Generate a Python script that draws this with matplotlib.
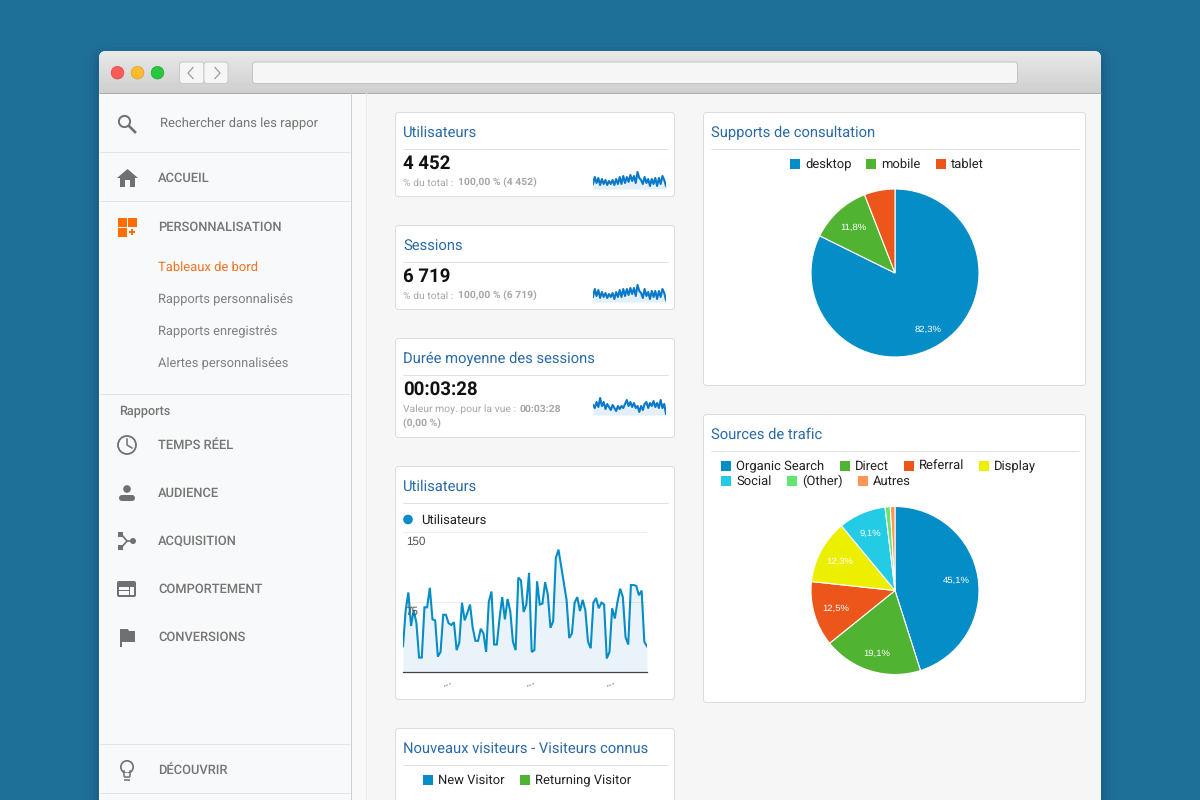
import matplotlib
matplotlib.use('Agg')
import numpy as np
import matplotlib.pyplot as plt
from matplotlib.patches import Circle, FancyBboxPatch, Polygon, Rectangle
from matplotlib.transforms import ScaledTranslation

plt.rcParams['font.family'] = ['Roboto', 'DejaVu Sans']
plt.rcParams['text.hinting'] = 'no_hinting'

# data
users_daily = [27, 66, 85, 49, 66, 52, 15, 15, 69, 69, 90, 56, 55, 16, 21, 61, 61, 52, 50, 53, 23, 31, 74,
               55, 63, 72, 47, 33, 33, 46, 41, 21, 75, 86, 29, 29, 57, 80, 56, 78, 65, 32, 23, 101, 98, 64,
               72, 106, 21, 23, 97, 72, 73, 96, 83, 47, 54, 122, 131, 113, 95, 77, 36, 41, 74, 80, 65, 77,
               66, 32, 25, 74, 79, 68, 74, 72, 14, 21, 68, 57, 75, 89, 80, 37, 29, 93, 93, 92, 82, 87, 32, 27]
users_ticks = [0, 75, 150]
users_tick_labels = ['', '75', '150']
date_ticks = [16, 47, 77]
date_labels = ['...', '...', '...']

spark_users = [5, 12, 6, 11, 4, 10, 5, 9, 4, 8, 5, 9, 4, 10, 5, 12, 5, 13, 6, 12, 7, 14, 8, 13, 6, 17, 11, 9,
               5, 12, 6, 10, 3, 10, 5, 11, 3, 11, 5, 13, 9, 3]
spark_sessions = [5, 13, 6, 12, 4, 10, 5, 9, 4, 8, 5, 9, 3, 10, 5, 12, 5, 13, 6, 13, 7, 14, 8, 14, 6, 17, 11,
                  9, 4, 13, 6, 10, 3, 11, 5, 11, 3, 11, 5, 13, 9, 2]
spark_duration = [10, 7, 13, 8, 17, 9, 13, 6, 11, 8, 5, 10, 7, 4, 9, 6, 9, 7, 11, 15, 9, 13, 8, 12, 7, 9, 3,
                  9, 5, 11, 13, 7, 12, 9, 14, 8, 12, 7, 15, 7, 11, 1]

device_names = ['desktop', 'mobile', 'tablet']
device_share = [82.3, 11.8, 5.9]
source_names = ['Organic Search', 'Direct', 'Referral', 'Display', 'Social', '(Other)', 'Autres']
source_share = [45.1, 19.1, 12.5, 12.3, 9.1, 1.0, 0.9]
visitor_names = ['New Visitor', 'Returning Visitor']

palette = ['#058dc7', '#50b432', '#ed561b', '#edef00', '#24cbe5', '#64e572', '#ff9655']
TITLE_BLUE = '#2a6aa8'
GREY = '#757575'
LINE = '#dfdfdf'
PX = 0.72

fig = plt.figure(figsize=(12, 8), dpi=100, facecolor='#1f7099')
bg = fig.add_axes([0, 0, 1, 1])
bg.set_xlim(0, 1200)
bg.set_ylim(800, 0)
bg.axis('off')


def box(x0, y0, x1, y1, fc, ec='none', r=3, lw=PX, z=2, alpha=None):
    p = FancyBboxPatch((x0, y0), x1 - x0, y1 - y0, boxstyle=f'round,pad=0,rounding_size={r}',
                       fc=fc, ec=ec, lw=lw, zorder=z, alpha=alpha)
    bg.add_patch(p)
    return p


def rect(x0, y0, x1, y1, color, z=3):
    bg.add_patch(Rectangle((x0, y0), x1 - x0, y1 - y0, fc=color, ec='none', zorder=z))


def hline(y, x0, x1, color=LINE, lw=PX, z=4):
    bg.plot([x0, x1], [y, y], color=color, lw=lw, zorder=z, solid_capstyle='butt')


def txt(x, y, s, px, color='#222222', weight='normal', ha='left', z=6):
    # baseline anchor so descenders and brackets do not move the row
    bg.text(x, y + 0.355 * px - 0.7, s, fontsize=px * PX, color=color, fontweight=weight, ha=ha, va='baseline', zorder=z)


def sub_axes(x0, y0, x1, y1):
    ax = fig.add_axes([x0 / 1200, 1 - y1 / 800, (x1 - x0) / 1200, (y1 - y0) / 800])
    ax.patch.set_alpha(0)
    return ax


# window and its soft shadow
for grow, a in [(14, 0.015), (10, 0.02), (6, 0.03), (3, 0.04)]:
    box(99 - grow, 51 - grow + 6, 1101 + grow, 830, '#000000', r=8 + grow, z=1, alpha=a)
win = box(99, 51, 1101, 830, '#f6f6f6', r=7, z=2)
bar = bg.imshow(np.linspace(0.91, 0.81, 42).reshape(-1, 1), cmap='gray', vmin=0, vmax=1,
                extent=(99, 1101, 93, 51), aspect='auto', zorder=2.5)
bar.set_clip_path(win)
bg.set_xlim(0, 1200)
bg.set_ylim(800, 0)
hline(92.5, 99, 1101, '#ababab')

# title bar controls
for cx, fc, ec in [(117.5, '#fc5b57', '#df4744'), (137.5, '#fdbc2e', '#de9f23'), (157.5, '#27c840', '#1aab2b')]:
    bg.add_patch(Circle((cx, 72.7), 6.3, fc=fc, ec=ec, lw=0.5, zorder=5))
box(179.5, 62, 204, 83.5, '#f6f6f6', '#c9c9c9', r=3, z=4)
box(204, 62, 228, 83.5, '#f6f6f6', '#c9c9c9', r=3, z=4)
box(252.5, 62, 1017.5, 83.5, '#f6f6f6', '#c4c4c4', r=3, z=4)
bg.plot([193, 188, 193], [67.5, 73, 78.5], color='#9a9a9a', lw=0.9, zorder=5)
bg.plot([215, 220, 215], [67.5, 73, 78.5], color='#9a9a9a', lw=0.9, zorder=5)

# sidebar
rect(99, 93, 351, 800, '#f8f9fa')
rect(351, 93, 365, 800, '#f9f9f9')
bg.plot([350.5, 350.5], [93, 800], color='#cfcfcf', lw=PX, zorder=4)
bg.plot([365.5, 365.5], [93, 800], color='#ececec', lw=PX, zorder=4)
for y in [152, 201, 394, 744, 793]:
    hline(y, 99, 350, '#e4e4e4')

txt(160, 123, 'Rechercher dans les rappor', 13, GREY)
nav_items = ['ACCUEIL', 'PERSONNALISATION', 'TEMPS RÉEL', 'AUDIENCE', 'ACQUISITION', 'COMPORTEMENT',
             'CONVERSIONS', 'DÉCOUVRIR']
nav_rows = [178, 227, 445, 493, 541, 589, 637, 770]
for name, y in zip(nav_items, nav_rows):
    txt(158, y, name, 12.9, GREY, 'medium')
txt(158, 267, 'Tableaux de bord', 13, '#f47321')
for name, y in zip(['Rapports personnalisés', 'Rapports enregistrés', 'Alertes personnalisées'], [299, 331, 363]):
    txt(158, y, name, 12.85, '#808080')
txt(119, 411, 'Rapports', 12.6, GREY, 'medium')

# sidebar icons
ICON = '#707070'
bg.add_patch(Circle((124.5, 121.5), 5.6, fc='none', ec=ICON, lw=1.4, zorder=5))
bg.plot([129, 135], [126, 132], color=ICON, lw=1.9, zorder=5)
bg.add_patch(Polygon([(117, 178), (127.5, 169), (138, 178), (135, 178), (135, 187), (130, 187), (130, 180),
                      (125, 180), (125, 187), (120, 187), (120, 178)], fc=ICON, ec='none', zorder=5))
for x0, y0 in [(118, 218), (128, 218), (118, 228)]:
    rect(x0, y0, x0 + 9, y0 + 8.5, '#ff6d00', 5)
rect(129, 231, 135, 232.5, '#ff6d00', 5)
rect(131.3, 228.8, 132.8, 234.8, '#ff6d00', 5)
bg.add_patch(Circle((127, 445), 9, fc='none', ec=ICON, lw=1.3, zorder=5))
bg.plot([127, 127, 132], [439, 445, 448], color=ICON, lw=1.1, zorder=5)
bg.add_patch(Circle((127, 489), 3.8, fc=ICON, ec='none', zorder=5))
box(119, 495, 135, 501, ICON, r=3, z=5)
bg.plot([121, 127, 134], [534, 541, 541], color=ICON, lw=1.2, zorder=5)
bg.plot([121, 127], [548, 541], color=ICON, lw=1.2, zorder=5)
rect(118, 532, 123, 537, ICON, 5)
rect(118, 545, 123, 550, ICON, 5)
bg.add_patch(Circle((133, 541), 3, fc=ICON, ec='none', zorder=5))
box(117, 581, 136, 597, ICON, r=2, z=5)
rect(119, 587, 129, 595, '#f8f9fa', 6)
rect(130, 587, 134, 595, '#f8f9fa', 6)
rect(119, 590, 129, 591, ICON, 7)
bg.add_patch(Polygon([(120, 629), (128, 629), (129, 631), (135, 631), (135, 642), (122, 642), (122, 647), (120, 647)],
                     fc=ICON, ec='none', zorder=5))
bg.add_patch(Circle((127, 767), 6.2, fc='none', ec=ICON, lw=1.2, zorder=5))
rect(123.5, 773, 130.5, 776, '#f8f9fa', 5.5)
bg.plot([124, 124], [771, 776], color=ICON, lw=1.1, zorder=6)
bg.plot([130, 130], [771, 776], color=ICON, lw=1.1, zorder=6)
hline(776.5, 124, 130, ICON, 1.1, 6)
hline(779.5, 124, 130, ICON, 1.1, 6)

# cards
cards = [(395, 112, 675, 197, 'Utilisateurs', 149), (395, 225, 675, 310, 'Sessions', 262),
         (395, 338, 675, 438, 'Durée moyenne des sessions', 375), (395, 466, 675, 700, 'Utilisateurs', 503),
         (395, 728, 675, 830, 'Nouveaux visiteurs - Visiteurs connus', 765),
         (703, 112, 1086, 386, 'Supports de consultation', 149), (703, 414, 1086, 703, 'Sources de trafic', 451)]
for x0, y0, x1, y1, title, rule in cards:
    box(x0 + 0.5, y0 + 0.5, x1 - 0.5, y1 - 0.5, 'white', '#dddddd', r=3)
    txt(x0 + 8, rule - 17, title, 14.8, TITLE_BLUE)
    hline(rule, x0 + 8, x1 - 7)

# scorecards
txt(403, 163, '4 452', 18.7, '#111111', 'bold')
txt(403, 276, '6 719', 18.7, '#111111', 'bold')
txt(403, 389, '00:03:28', 18.7, '#111111', 'bold')
SUB = '#a6a6a6'
txt(403, 183, '% du total :', 10.4, SUB)
txt(458, 183, '100,00 % (4 452)', 10.4, SUB, 'bold')
txt(403, 296, '% du total :', 10.4, SUB)
txt(458, 296, '100,00 % (6 719)', 10.4, SUB, 'bold')
txt(403, 409, 'Valeur moy. pour la vue :', 10.4, SUB)
txt(520, 409, '00:03:28', 10.4, SUB, 'bold')
txt(403, 424, '(0,00 %)', 10.4, SUB, 'bold')

for series, (y0, y1) in [(spark_users, (171, 189)), (spark_sessions, (284, 302)), (spark_duration, (397, 415))]:
    ax = sub_axes(593, y0, 666, y1)
    xs = np.arange(len(series))
    ax.fill_between(xs, series, color='#e3f0fa', lw=0)
    ax.plot(xs, series, color='#0a78c8', lw=1.5)
    ax.set_xlim(0, len(series) - 1)
    ax.set_ylim(0, 18)
    ax.axis('off')

# line chart
ax = sub_axes(403, 532, 647, 671.5)
days = np.arange(len(users_daily))
ax.fill_between(days, users_daily, color='#eaf3fa', lw=0)
ax.plot(days, users_daily, color='#058dc7', lw=1.5, solid_joinstyle='miter')
ax.set_xlim(0, len(users_daily) - 1)
ax.set_ylim(0, 150)
ax.set_yticks(users_ticks)
ax.set_yticklabels(users_tick_labels, fontsize=8.4, color='#555555', fontfamily='Liberation Sans')
ax.tick_params(axis='y', length=0, pad=-2)
shift = ScaledTranslation(0, -3 / 72, fig.dpi_scale_trans)
for lab in ax.get_yticklabels():
    lab.set_ha('left')
    lab.set_va('top')
    lab.set_transform(lab.get_transform() + shift)
ax.set_xticks(date_ticks)
ax.set_xticklabels(date_labels, rotation=22, fontsize=9, color='#777777')
ax.tick_params(axis='x', length=0, pad=2)
# see-through grid: the axis sits above the line so the 75 stays readable
ax.grid(axis='y', color='black', alpha=0.07, lw=PX)
ax.set_axisbelow(False)
for side in ['top', 'left', 'right']:
    ax.spines[side].set_visible(False)
ax.spines['bottom'].set_color('#444444')
ax.spines['bottom'].set_linewidth(0.9)
bg.add_patch(Circle((408, 519.5), 4.8, fc=palette[0], ec='none', zorder=5))
txt(421, 520, 'Utilisateurs', 13, '#222222')


# pie charts
def pie_chart(values, cx, cy, r=84):
    pie_ax = sub_axes(cx - r - 1, cy - r - 1, cx + r + 1, cy + r + 1)
    colors = palette[:len(values)]
    _, _, labels = pie_ax.pie(values, colors=colors, startangle=90, counterclock=False, radius=r / (r + 1),
                              wedgeprops=dict(edgecolor='white', linewidth=0.8),
                              autopct=lambda p: f'{p:.1f}%'.replace('.', ',') if p >= 9 else '', pctdistance=0.74)
    for lab in labels:
        lab.set_color('white')
        lab.set_fontsize(6.8)
        lab.set_fontfamily('Liberation Sans')
        x, y = lab.get_position()
        if y < -0.5:
            lab.set_position((x, y - 0.04))
    pie_ax.set_xlim(-1, 1)
    pie_ax.set_ylim(-1, 1)


pie_chart(device_share, 895, 273)
pie_chart(source_share, 895, 590.5)


# legends
def legend_row(names, colors, squares, y):
    for name, color, sq in zip(names, colors, squares):
        rect(sq, y - 5, sq + 10, y + 5, color, 5)
        txt(sq + 15, y, name, 13)


legend_row(device_names, palette, [790, 866, 936], 164)
legend_row(source_names[:4], palette[:4], [721, 840, 904, 979], 466)
legend_row(source_names[4:], palette[4:], [721, 787, 858], 481)
legend_row(visitor_names, palette, [423, 520], 780)

fig.savefig('out.png', dpi=100, facecolor=fig.get_facecolor())
